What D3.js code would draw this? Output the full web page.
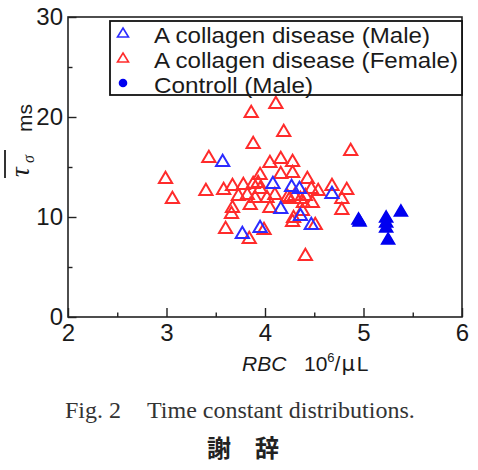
<!DOCTYPE html>
<html><head><meta charset="utf-8">
<script src="https://cdn.jsdelivr.net/npm/d3@7"></script>
<style>
body{margin:0;background:#fff;}
svg{display:block;}
</style></head>
<body>
<svg id="chart" width="478" height="470"></svg>
<script>
// Data (x: RBC 10^6/uL, y: tau ms)
const maleCollagen = [[3.57,15.6],[3.77,8.4],[3.95,9.0],[4.08,13.4],[4.27,13.1],[4.35,12.9],[4.68,12.4],[4.16,10.9],[4.36,10.2],[4.47,9.3]];
const femaleCollagen = [[3.86,20.5],[4.11,21.4],[4.19,18.6],[3.88,17.4],[4.87,16.7],[3.43,16.0],[4.05,15.5],[4.16,15.9],[4.28,15.6],
 [2.99,13.9],[3.06,11.9],[3.40,12.7],[3.58,12.8],[3.67,13.2],[3.78,13.3],[3.95,14.3],[4.16,14.4],[4.28,14.5],[4.43,13.9],
 [4.68,13.2],[4.83,12.8],[4.78,10.8],[4.78,11.9],[4.41,6.2],[3.73,12.2],[3.82,12.3],[3.85,11.3],[3.67,11.0],[3.66,10.4],
 [3.60,8.9],[3.84,7.9],[3.99,8.8],[4.28,9.6],[4.51,9.3],[3.90,12.0],[4.02,12.0],[4.10,12.3],[4.05,11.0],[3.88,13.4],
 [4.39,11.5],[4.38,10.7],[4.48,11.5],[4.25,11.9],[4.30,12.2],[4.41,12.2],[4.47,12.9],[4.54,12.7],[3.93,13.5],[3.95,12.9],
 [4.23,12.1],[4.36,11.9],[4.29,10.0]];
const controlMale = [[4.95,9.8],[4.96,9.6],[5.23,10.0],[5.23,9.5],[5.23,9.0],[5.25,7.8],[5.38,10.6]];
const xTicks = [2,3,4,5,6];
const yTicks = [0,10,20,30];
const legendLabels = ["A collagen disease (Male)","A collagen disease (Female)","Controll (Male)"];

const svg = d3.select("#chart");
const L=68, R=462, T=17, B=317;
const x = d3.scaleLinear().domain([2,6]).range([L,R]);
const y = d3.scaleLinear().domain([0,30]).range([B,T]);
const sans = "'Liberation Sans', Arial, Helvetica, sans-serif";
const axisColor = "#222";

// frame
svg.append("rect").attr("x",L).attr("y",T).attr("width",R-L).attr("height",B-T)
  .attr("fill","none").attr("stroke",axisColor).attr("stroke-width",1.6);

// x axis ticks (inward)
const xAxis = d3.axisBottom(x).tickValues(xTicks).tickSize(-9).tickPadding(7).tickFormat(d3.format("d"));
const gx = svg.append("g").attr("transform",`translate(0,${B})`).call(xAxis);
gx.select(".domain").remove();
gx.selectAll("line").attr("stroke",axisColor).attr("stroke-width",1.4);
gx.selectAll("text").attr("font-family",sans).attr("font-size",24).attr("fill","#1a1a1a");
const gxm = svg.append("g").attr("transform",`translate(0,${B})`)
  .call(d3.axisBottom(x).tickValues([2.5,3.5,4.5,5.5]).tickSize(-4.5).tickFormat(""));
gxm.select(".domain").remove();
gxm.selectAll("line").attr("stroke",axisColor).attr("stroke-width",1.4);

// y axis
const yAxis = d3.axisLeft(y).tickValues(yTicks).tickSize(-8.5).tickPadding(5).tickFormat(d3.format("d"));
const gy = svg.append("g").attr("transform",`translate(${L},0)`).call(yAxis);
gy.select(".domain").remove();
gy.selectAll("line").attr("stroke",axisColor).attr("stroke-width",1.4);
gy.selectAll("text").attr("font-family",sans).attr("font-size",24).attr("fill","#1a1a1a");
const gym = svg.append("g").attr("transform",`translate(${L},0)`)
  .call(d3.axisLeft(y).tickValues([5,15,25]).tickSize(-4.5).tickFormat(""));
gym.select(".domain").remove();
gym.selectAll("line").attr("stroke",axisColor).attr("stroke-width",1.4);

// markers
const tri = "M0,-6.2L6.6,5L-6.6,5Z";
const red = "#ff2b2b", blue = "#2b2bff";
svg.append("g").selectAll("path").data(femaleCollagen).join("path")
  .attr("d",tri).attr("transform",d=>`translate(${x(d[0])},${y(d[1])})`)
  .attr("fill","none").attr("stroke",red).attr("stroke-width",2);
svg.append("g").selectAll("path").data(maleCollagen).join("path")
  .attr("d",tri).attr("transform",d=>`translate(${x(d[0])},${y(d[1])})`)
  .attr("fill","none").attr("stroke",blue).attr("stroke-width",2);
svg.append("g").selectAll("path").data(controlMale).join("path")
  .attr("d",tri).attr("transform",d=>`translate(${x(d[0])},${y(d[1])})`)
  .attr("fill","#0000f0").attr("stroke","#0000f0").attr("stroke-width",1.5);

// legend
const lg = svg.append("g");
lg.append("rect").attr("x",110).attr("y",21).attr("width",R-110).attr("height",74)
  .attr("fill","#fff").attr("stroke","#111").attr("stroke-width",1.8);
const rowY = [33,58,83];
const widths = [276,304,159];
lg.append("path").attr("d","M0,-5L5.5,4L-5.5,4Z").attr("transform",`translate(123,${rowY[0]})`)
  .attr("fill","none").attr("stroke",blue).attr("stroke-width",1.6);
lg.append("path").attr("d","M0,-5L5.5,4L-5.5,4Z").attr("transform",`translate(123,${rowY[1]})`)
  .attr("fill","none").attr("stroke",red).attr("stroke-width",1.6);
lg.append("circle").attr("cx",123).attr("cy",rowY[2]).attr("r",4.3).attr("fill","#0000f0");
legendLabels.forEach((t,i)=>{
  lg.append("text").attr("x",154).attr("y",rowY[i]+10).attr("font-family",sans).attr("font-size",21.5)
    .attr("fill","#1a1a1a").attr("textLength",widths[i]).attr("lengthAdjust","spacingAndGlyphs").text(t);
});

// x title
const xt = svg.append("text").attr("x",242).attr("y",371).attr("font-family",sans).attr("font-size",21).attr("fill","#1a1a1a");
xt.append("tspan").attr("font-style","italic").text("RBC");
xt.append("tspan").attr("x",304).text("10");
xt.append("tspan").attr("font-size",13).attr("dy",-9).text("6");
xt.append("tspan").attr("dy",9).text("/");
xt.append("tspan").attr("font-family","'DejaVu Sans', sans-serif").attr("dx",1).text("μ");
xt.append("tspan").attr("dx",2).text("L");

// y title (rotated)
const serif = "'Liberation Serif', 'Times New Roman', serif";
const yt = svg.append("g");
yt.append("line").attr("x1",5).attr("x2",5).attr("y1",150).attr("y2",178).attr("stroke","#333").attr("stroke-width",2);
yt.append("text").attr("transform","translate(29,177) rotate(-90)").attr("font-family",serif)
  .attr("font-style","italic").attr("font-size",27).attr("fill","#1a1a1a").text("τ");
yt.append("text").attr("transform","translate(34,163) rotate(-90)").attr("font-family",serif)
  .attr("font-style","italic").attr("font-size",16).attr("fill","#1a1a1a").text("σ");
yt.append("text").attr("transform","translate(32,132) rotate(-90)").attr("font-family",sans)
  .attr("font-size",21).attr("fill","#1a1a1a").text("ms");

// caption
svg.append("text").attr("x",65).attr("y",418).attr("font-family",serif).attr("font-size",24).attr("fill","#333").text("Fig. 2");
svg.append("text").attr("x",147).attr("y",418).attr("font-family",serif).attr("font-size",24).attr("fill","#333").text("Time constant distributions.");
svg.append("text").attr("x",207).attr("y",457).attr("font-family","'Noto Sans CJK JP', sans-serif").attr("font-weight","bold")
  .attr("font-size",24).attr("fill","#222").text("謝");
svg.append("text").attr("x",255).attr("y",457).attr("font-family","'Noto Sans CJK JP', sans-serif").attr("font-weight","bold")
  .attr("font-size",24).attr("fill","#222").text("辞");
</script>
</body></html>
